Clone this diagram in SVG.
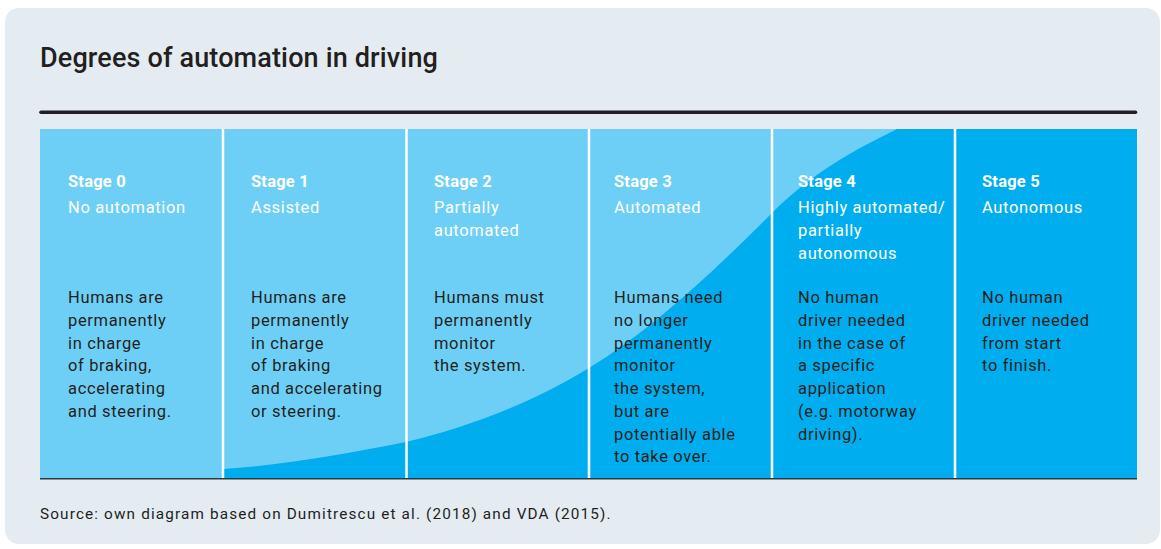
<svg xmlns="http://www.w3.org/2000/svg" width="1161" height="549" viewBox="0 0 1161 549">
<style>
.title{font-family:Roboto,"Liberation Sans",sans-serif;font-weight:500;font-size:27px;fill:#231f20;letter-spacing:0.15px}
.stage{font-family:Roboto,"Liberation Sans",sans-serif;font-weight:700;font-size:16.5px;fill:#ffffff;letter-spacing:0.2px}
.sub{font-family:Roboto,"Liberation Sans",sans-serif;font-weight:400;font-size:16.5px;fill:#ffffff;letter-spacing:0.65px}
.body{font-family:Roboto,"Liberation Sans",sans-serif;font-weight:400;font-size:16.5px;fill:#231f20;letter-spacing:0.65px}
.src{font-family:Roboto,"Liberation Sans",sans-serif;font-weight:400;font-size:15.3px;fill:#231f20;letter-spacing:1.15px}
.div{stroke:#ffffff;stroke-width:2.5}
</style>
<rect x="5" y="8" width="1155" height="536" rx="14" fill="#e4ecf2"/>
<text class="title" x="40" y="67">Degrees of automation in driving</text>
<line x1="41" y1="112.3" x2="1135.5" y2="112.3" stroke="#231f20" stroke-width="3.6" stroke-linecap="round"/>
<g id="chart">
<rect x="40" y="129" width="1097" height="349.5" fill="#6dcff6"/>
<path d="M223,469 C284,465 345,454 406,442 C467,427 528,405 589,368 C650,331 711,274 772,213 C814,171 855,150 897,129 L1137,129 L1137,478.5 L223,478.5 Z" fill="#00aeef"/>
</g>
<g id="connectors">
<line class="div" x1="223" y1="129" x2="223" y2="478"/>
<line class="div" x1="406.5" y1="129" x2="406.5" y2="478"/>
<line class="div" x1="589" y1="129" x2="589" y2="478"/>
<line class="div" x1="772" y1="129" x2="772" y2="478"/>
<line class="div" x1="955" y1="129" x2="955" y2="478"/>
</g>
<line x1="40" y1="478.7" x2="1137" y2="478.7" stroke="#2b3a42" stroke-width="1.6"/>
<g id="stage0">
<text class="stage" x="68" y="187">Stage 0</text>
<text class="sub" x="68" y="213.3">No automation</text>
<text class="body" x="68" y="303.3">Humans are</text>
<text class="body" x="68" y="326">permanently</text>
<text class="body" x="68" y="348.7">in charge</text>
<text class="body" x="68" y="371.4">of braking,</text>
<text class="body" x="68" y="394.1">accelerating</text>
<text class="body" x="68" y="416.8">and steering.</text>
</g>
<g id="stage1">
<text class="stage" x="251" y="187">Stage 1</text>
<text class="sub" x="251" y="213.3">Assisted</text>
<text class="body" x="251" y="303.3">Humans are</text>
<text class="body" x="251" y="326">permanently</text>
<text class="body" x="251" y="348.7">in charge</text>
<text class="body" x="251" y="371.4">of braking</text>
<text class="body" x="251" y="394.1">and accelerating</text>
<text class="body" x="251" y="416.8">or steering.</text>
</g>
<g id="stage2">
<text class="stage" x="434" y="187">Stage 2</text>
<text class="sub" x="434" y="213.3">Partially</text>
<text class="sub" x="434" y="236">automated</text>
<text class="body" x="434" y="303.3">Humans must</text>
<text class="body" x="434" y="326">permanently</text>
<text class="body" x="434" y="348.7">monitor</text>
<text class="body" x="434" y="371.4">the system.</text>
</g>
<g id="stage3">
<text class="stage" x="614" y="187">Stage 3</text>
<text class="sub" x="614" y="213.3">Automated</text>
<text class="body" x="614" y="303.3">Humans need</text>
<text class="body" x="614" y="326">no longer</text>
<text class="body" x="614" y="348.7">permanently</text>
<text class="body" x="614" y="371.4">monitor</text>
<text class="body" x="614" y="394.1">the system,</text>
<text class="body" x="614" y="416.8">but are</text>
<text class="body" x="614" y="439.5">potentially able</text>
<text class="body" x="614" y="462.2">to take over.</text>
</g>
<g id="stage4">
<text class="stage" x="798" y="187">Stage 4</text>
<text class="sub" x="798" y="213.3">Highly automated/</text>
<text class="sub" x="798" y="236">partially</text>
<text class="sub" x="798" y="258.7">autonomous</text>
<text class="body" x="798" y="303.3">No human</text>
<text class="body" x="798" y="326">driver needed</text>
<text class="body" x="798" y="348.7">in the case of</text>
<text class="body" x="798" y="371.4">a specific</text>
<text class="body" x="798" y="394.1">application</text>
<text class="body" x="798" y="416.8">(e.g. motorway</text>
<text class="body" x="798" y="439.5">driving).</text>
</g>
<g id="stage5">
<text class="stage" x="982" y="187">Stage 5</text>
<text class="sub" x="982" y="213.3">Autonomous</text>
<text class="body" x="982" y="303.3">No human</text>
<text class="body" x="982" y="326">driver needed</text>
<text class="body" x="982" y="348.7">from start</text>
<text class="body" x="982" y="371.4">to finish.</text>
</g>
<text class="src" x="40" y="519">Source: own diagram based on Dumitrescu et al. (2018) and VDA (2015).</text>
</svg>
